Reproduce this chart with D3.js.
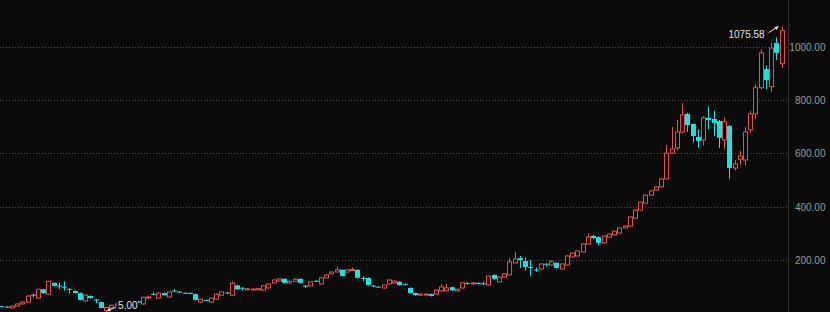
<!DOCTYPE html>
<html><head><meta charset="utf-8">
<script src="https://cdn.jsdelivr.net/npm/d3@7"></script>
<style>html,body{margin:0;padding:0;background:#0b0b0b;overflow:hidden}</style>
</head><body>
<svg id="c" width="830" height="312"></svg>
<script>
const opens  = [27,25,20,27,35,42,70,57,90,72, 114,104,100,92,84,76,46,65,52,42, 10,20,30,35,38,42,45,35,58,73, 57,76,61,85,81,77,76,72,42,50, 42,53,68,78,68,105,96,90,90,90, 87,95,114,121,129,114,120,129,104,103, 122,110,133,148,155,163,155,162,163,133, 133,104,100,95,110,114,118,111,95,76, 68,68,72,72,84,85,98,84,95,114, 110,114,112,106,144,118,136,144,189,207, 196,174,164,166,186,181,189,166,181,211, 215,230,260,290,286,264,286,294,301,320, 327,357,387,413,443,462,474,504,601,620, 680,748,710,662,650,733,729,721,650,703, 545,578,575,688,748,846,916,850,1014,936];
const highs  = [28,26,28,37,44,68,74,92,92,122, 116,115,120,93,86,78,70,67,54,44, 24,32,37,40,44,47,47,62,66,80, 78,78,82,90,83,79,78,74,54,52, 58,74,82,80,120,107,98,94,93,95, 105,112,127,131,131,123,130,131,106,120, 124,135,146,157,175,165,165,172,165,140, 135,106,101,108,127,124,120,112,97,78, 74,74,74,89,110,110,100,92,116,116, 116,116,118,142,146,138,150,207,230,215, 210,200,172,187,188,200,191,187,218,228, 236,262,301,295,288,292,299,310,322,330, 363,390,420,446,462,476,506,632,699,725, 788,752,712,690,740,775,760,725,735,706, 575,610,700,760,860,990,930,1015,1035,1075.58];
const lows   = [22,21,19,26,33,40,60,55,74,70, 100,90,85,75,74,48,44,55,38,18, 5,18,28,33,36,40,38,33,56,70, 55,66,59,80,78,74,72,48,40,45, 40,51,66,73,66,88,85,89,89,88, 85,93,112,119,112,112,118,112,95,101, 118,108,131,146,153,138,153,160,130,120, 104,100,97,93,108,112,104,105,74,66, 66,66,63,70,82,83,84,82,93,108, 108,108,105,104,126,116,134,142,187,170, 160,140,155,164,175,179,168,164,179,209, 213,228,258,278,255,262,284,292,299,318, 325,355,385,411,441,460,472,502,598,610, 675,680,640,620,630,690,665,620,615,504, 535,555,555,675,730,840,840,830,950,920];
const closes = [24,23,27,35,42,65,67,90,76,120, 103,102,98,90,76,50,68,57,48,20, 22,30,35,38,42,45,40,60,61,72, 76,68,80,84,80,76,75,50,53,47, 57,72,80,75,113,90,95,92,91,92, 103,110,125,129,114,120,128,114,103,118, 121,133,144,155,163,140,163,164,133,132, 106,103,99,106,125,121,106,110,76,68, 72,72,65,87,99,95,86,90,114,110, 114,110,109,140,129,136,148,193,204,200, 174,170,162,185,183,193,170,185,215,226, 234,260,286,282,264,290,297,308,320,327, 361,387,417,443,459,474,504,601,616,680, 744,706,665,647,733,725,714,658,718,545, 560,590,680,748,846,977,875,995,977,1060];
const yTicks = [200, 400, 600, 800, 1000];

const W = 830, H = 312, axisX = 788.5;
const N = closes.length;
const FONT = '"Liberation Sans",Arial,sans-serif';
const svg = d3.select('#c');
svg.append('rect').attr('width', W).attr('height', H).attr('fill', '#0b0b0b');

const x = d3.scaleBand().domain(d3.range(N)).range([-0.6, 783.6]).paddingInner(0.25);
const y = d3.scaleLinear().domain([0, 1000]).range([313.3, 46.7]);
const cx = i => x(i) + x.bandwidth() / 2;

// grid
svg.append('g').selectAll('line').data(yTicks).join('line')
  .attr('x1', 0).attr('x2', axisX).attr('y1', d => Math.round(y(d)) + 0.5).attr('y2', d => Math.round(y(d)) + 0.5)
  .attr('stroke', '#505050').attr('stroke-dasharray', '1,2');

// right axis
const ax = d3.axisRight(y).tickValues(yTicks).tickSize(0).tickFormat(d3.format('.2f'));
const axG = svg.append('g').attr('transform', `translate(${axisX},0)`).call(ax);
axG.select('.domain').remove();
axG.selectAll('text').attr('x', 37).attr('text-anchor', 'end').attr('dy', '0.36em')
  .attr('fill', '#9a9a9a').attr('font-family', FONT).attr('font-size', 10);
svg.append('line').attr('x1', axisX).attr('x2', axisX).attr('y1', 0).attr('y2', H).attr('stroke', '#333');

const RED = '#e0524f', CYAN = '#1fe0e0';
const data = d3.range(N).map(i => ({i, o: opens[i], h: highs[i], l: lows[i], c: closes[i]}));
const g = svg.append('g');
const bw = 4;
data.forEach(d => {
  const up = d.c >= d.o;
  const col = up ? RED : CYAN;
  const xc = Math.round(cx(d.i)) + 0.5;
  g.append('line').attr('x1', xc).attr('x2', xc).attr('y1', y(d.h)).attr('y2', y(d.l)).attr('stroke', col).attr('stroke-width', 1);
  const top = y(Math.max(d.o, d.c)), bot = y(Math.min(d.o, d.c));
  const hgt = Math.max(1, bot - top);
  if (up) {
    g.append('rect').attr('x', xc - bw / 2).attr('y', top).attr('width', bw).attr('height', hgt)
      .attr('fill', '#0b0b0b').attr('stroke', col).attr('stroke-width', 1);
  } else {
    g.append('rect').attr('x', xc - bw / 2 - 0.5).attr('y', top).attr('width', bw + 1).attr('height', hgt)
      .attr('fill', col);
  }
});

// max / min annotations
const iMax = d3.maxIndex(highs), iMin = d3.minIndex(lows);
const mx = cx(iMax), my = y(highs[iMax]);
const nx = cx(iMin), ny = y(lows[iMin]);
const ann = svg.append('g').attr('font-family', FONT).attr('font-size', 10);
function arrow(x1, y1, x2, y2) {
  ann.append('line').attr('x1', x1).attr('y1', y1).attr('x2', x2).attr('y2', y2).attr('stroke', '#e8e8e8').attr('stroke-width', 1);
  const a = Math.atan2(y2 - y1, x2 - x1), L = 4;
  const p = [[x2, y2], [x2 - L * Math.cos(a - 0.5), y2 - L * Math.sin(a - 0.5)], [x2 - L * Math.cos(a + 0.5), y2 - L * Math.sin(a + 0.5)]];
  ann.append('path').attr('d', 'M' + p.join('L') + 'Z').attr('fill', '#e8e8e8');
}
const maxTxt = highs[iMax].toFixed(2), minTxt = lows[iMin].toFixed(2);
arrow(mx - 13, my + 6, mx - 3, my);
ann.append('text').attr('x', mx - 17).attr('y', my + 11).attr('text-anchor', 'end').attr('fill', '#e0e0e0').text(maxTxt);
ann.append('rect').attr('x', nx + 11).attr('y', ny - 12).attr('width', 21).attr('height', 11).attr('fill', '#0b0b0b');
arrow(nx + 10, ny - 5, nx + 1, ny - 1);
ann.append('text').attr('x', nx + 12).attr('y', ny - 3).attr('fill', '#e0e0e0').text(minTxt);
</script>
</body></html>
